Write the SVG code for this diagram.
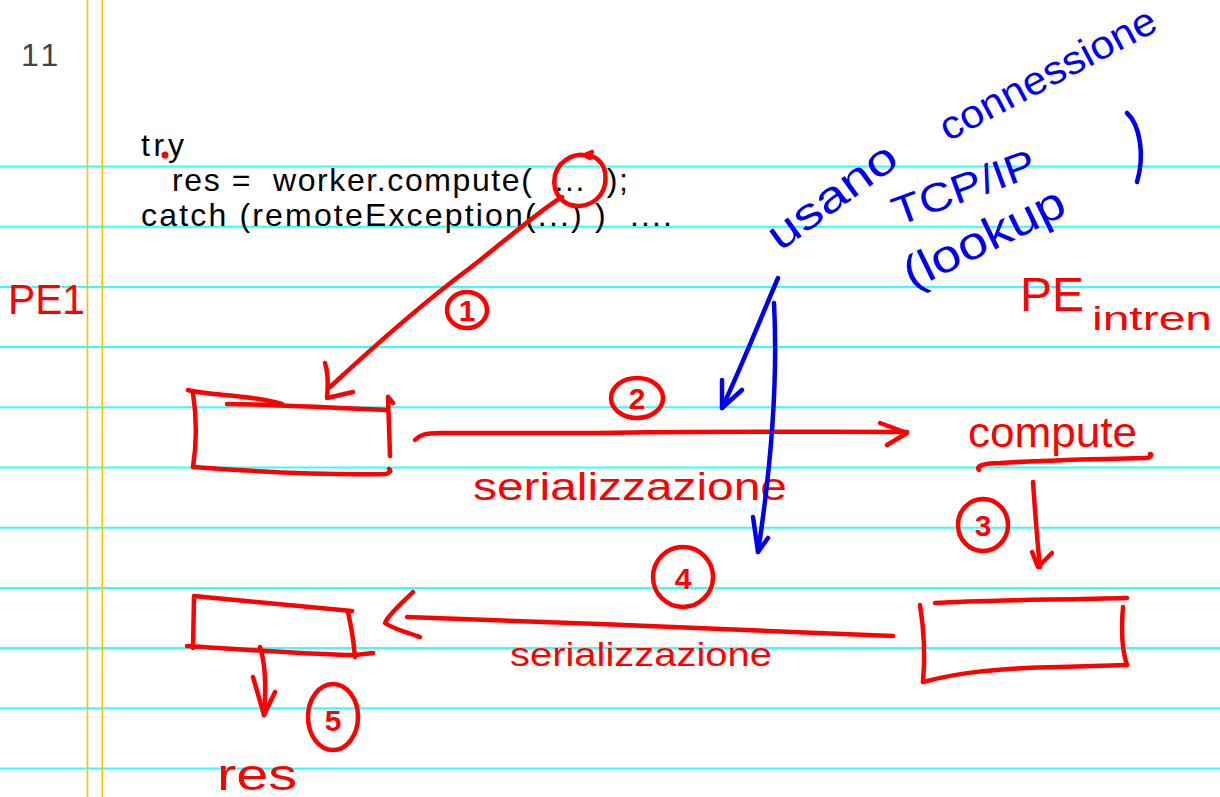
<svg xmlns="http://www.w3.org/2000/svg" width="1220" height="797" viewBox="0 0 1220 797">
<style>
.rule{stroke:#33ffff;stroke-width:2}
.margin{stroke:#ffc000;stroke-width:1.6}
.code{font-family:"Liberation Sans",Arial,sans-serif;font-size:32px;fill:#000}
.pg{font-family:"Liberation Sans",Arial,sans-serif;font-size:32px;fill:#444}
.r{fill:none;stroke:#ff0000;stroke-width:4.5;stroke-linecap:round;stroke-linejoin:round}
.b{fill:none;stroke:#0000ee;stroke-width:4.5;stroke-linecap:round;stroke-linejoin:round}
.rt{font-family:"Liberation Sans",Arial,sans-serif;fill:#ff0000}
.bt{font-family:"Liberation Sans",Arial,sans-serif;fill:#0000ee}
.num{font-family:"Liberation Sans",Arial,sans-serif;fill:#ff0000;font-size:30px;font-weight:bold;text-anchor:middle}
</style>
<rect width="1220" height="797" fill="#fff"/>
<g id="paper">
<line class="rule" x1="0" y1="166.5" x2="1220" y2="166.5"/>
<line class="rule" x1="0" y1="226.7" x2="1220" y2="226.7"/>
<line class="rule" x1="0" y1="286.9" x2="1220" y2="286.9"/>
<line class="rule" x1="0" y1="347.1" x2="1220" y2="347.1"/>
<line class="rule" x1="0" y1="407.3" x2="1220" y2="407.3"/>
<line class="rule" x1="0" y1="467.5" x2="1220" y2="467.5"/>
<line class="rule" x1="0" y1="527.7" x2="1220" y2="527.7"/>
<line class="rule" x1="0" y1="587.9" x2="1220" y2="587.9"/>
<line class="rule" x1="0" y1="648.1" x2="1220" y2="648.1"/>
<line class="rule" x1="0" y1="708.3" x2="1220" y2="708.3"/>
<line class="rule" x1="0" y1="768.5" x2="1220" y2="768.5"/>
<line class="margin" x1="87.5" y1="0" x2="87.5" y2="797"/>
<line class="margin" x1="102.3" y1="0" x2="102.3" y2="797"/>
<text class="pg" x="21" y="66" letter-spacing="4">11</text>
</g>
<g id="code">
<text class="code" x="141" y="156" textLength="43" lengthAdjust="spacing">try</text>
<text class="code" x="172" y="191" textLength="456" lengthAdjust="spacing" xml:space="preserve">res =  worker.compute(  ...  );</text>
<text class="code" x="141" y="226" textLength="531" lengthAdjust="spacing" xml:space="preserve">catch (remoteException(...) )  ....</text>
<circle cx="165" cy="155" r="3.5" fill="#ff0000"/>
</g>
<g id="label-pe1"><text class="rt" x="8" y="314" font-size="42" textLength="77" lengthAdjust="spacingAndGlyphs">PE1</text></g>
<g id="label-peintren">
<text class="rt" x="1020" y="311" font-size="48">PE</text>
<text class="rt" x="1092" y="330" font-size="34" textLength="120" lengthAdjust="spacingAndGlyphs">intren</text>
</g>
<g id="blue-note">
<text class="bt" x="780" y="252" font-size="44" transform="rotate(-36 780 252)" textLength="150" lengthAdjust="spacingAndGlyphs">usano</text>
<text class="bt" x="948" y="142" font-size="40" transform="rotate(-28 948 142)" textLength="240" lengthAdjust="spacingAndGlyphs">connessione</text>
<text class="bt" x="898" y="226" font-size="40" transform="rotate(-20 898 226)" textLength="150" lengthAdjust="spacingAndGlyphs">TCP/IP</text>
<text class="bt" x="912" y="290" font-size="46" transform="rotate(-26 912 290)" textLength="175" lengthAdjust="spacingAndGlyphs">(lookup</text>
<path class="b" d="M1127,113 C1140,125 1145,155 1137,182"/>
</g>
<g id="box-client-call">
<path class="r" d="M188,390 C210,396 250,394 282,404"/>
<path class="r" d="M227,404 C260,404 300,406 387,410"/>
<path class="r" d="M193,393 C197,420 197,442 193,467"/>
<path class="r" d="M193,467 C260,472 330,475 385,474 C391,473 391,470 389,469"/>
<path class="r" d="M388,397 L390,456 M388,397 L393,403"/>
</g>
<g id="box-client-result">
<path class="r" d="M194,596 C240,600 290,605 352,611"/>
<path class="r" d="M194,597 L193,648"/>
<path class="r" d="M187,646 C250,650 320,655 355,655 L373,653"/>
<path class="r" d="M348,612 C352,630 354,645 355,657"/>
</g>
<g id="box-server">
<path class="r" d="M935,603 C980,600 1050,600 1127,598"/>
<path class="r" d="M920,605 C924,630 925,660 923,682"/>
<path class="r" d="M923,682 C960,672 1000,668 1060,667 L1127,665"/>
<path class="r" d="M1123,607 C1121,630 1122,650 1127,665"/>
</g>
<g id="label-compute">
<text class="rt" x="968" y="447" font-size="42" textLength="169" lengthAdjust="spacingAndGlyphs">compute</text>
<path class="r" d="M979,470 C975,466 985,463 1000,463 C1050,460 1100,459 1148,458 C1152,456 1152,454 1150,454"/>
</g>
<g id="label-res"><text class="rt" x="217" y="790" font-size="44" textLength="80" lengthAdjust="spacingAndGlyphs">res</text></g>
<g id="label-ser"><text class="rt" x="473" y="500" font-size="38" textLength="314" lengthAdjust="spacingAndGlyphs">serializzazione</text></g>
<g id="label-deser"><text class="rt" x="510" y="666" font-size="34" textLength="262" lengthAdjust="spacingAndGlyphs">serializzazione</text></g>
<g id="step1"><ellipse class="r" cx="467" cy="310" rx="20" ry="18"/><text class="num" x="467" y="321">1</text></g>
<g id="step2"><ellipse class="r" cx="637" cy="398" rx="26" ry="20"/><text class="num" x="637" y="409">2</text></g>
<g id="step3"><ellipse class="r" cx="983" cy="525" rx="25" ry="26"/><text class="num" x="983" y="536">3</text></g>
<g id="step4"><ellipse class="r" cx="683" cy="577" rx="30" ry="30"/><text class="num" x="683" y="589" font-size="34">4</text></g>
<g id="step5"><ellipse class="r" cx="333" cy="717" rx="25" ry="33"/><text class="num" x="333" y="731" font-size="38">5</text></g>
<g id="connectors">
<path class="r" d="M590,158 C580,150 560,158 555,175 C551,195 565,207 580,206 C598,204 608,190 605,172 C603,162 595,155 585,155 L592,152"/>
<path class="r" d="M562,197 C540,210 500,245 470,268 C420,305 370,350 330,387"/>
<path class="r" d="M325,363 C329,375 328,388 327,398 L353,392"/>
<path class="r" d="M415,440 C420,435 425,433 440,433 L600,433 C700,431 800,432 907,432"/>
<path class="r" d="M880,423 L907,433 L887,445"/>
<path class="r" d="M1033,482 C1035,510 1037,540 1040,567"/>
<path class="r" d="M1032,552 L1038,567 L1052,553"/>
<path class="r" d="M893,636 C800,632 700,628 600,624 C500,620 450,618 407,617"/>
<path class="r" d="M413,592 C400,605 388,615 385,623 C395,630 410,633 420,637"/>
<path class="r" d="M260,647 C266,665 266,690 264,715"/>
<path class="r" d="M253,677 L264,715 L275,692"/>
<path class="b" d="M778,278 C760,320 740,370 722,408"/>
<path class="b" d="M722,380 L722,408 L742,390"/>
<path class="b" d="M774,303 C778,380 772,460 758,552"/>
<path class="b" d="M753,517 L758,552 L768,538"/>
</g>
</svg>
